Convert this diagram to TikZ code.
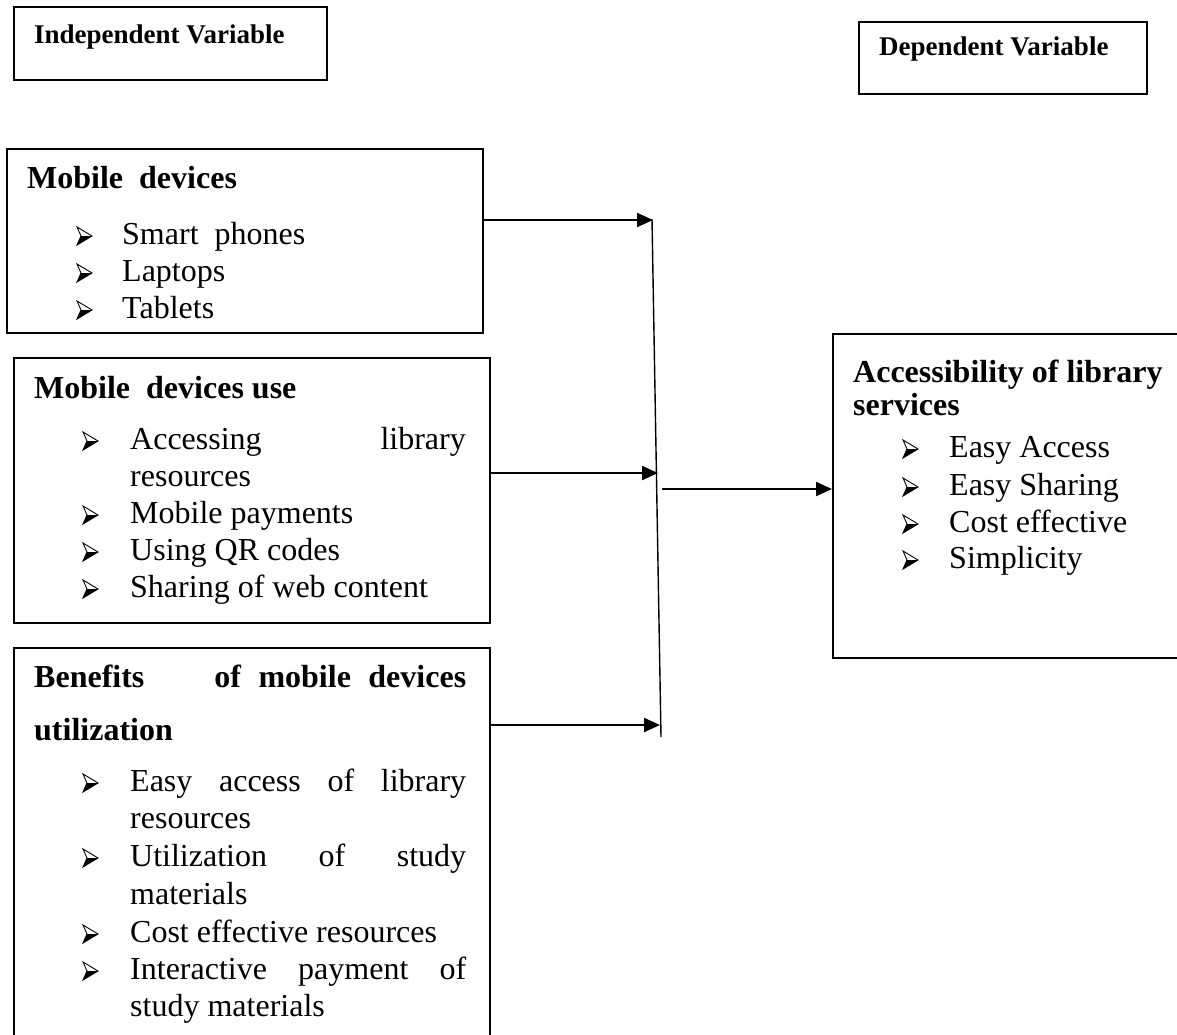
\documentclass[tikz,border=0pt]{standalone}
\usepackage{fontspec}
\setmainfont{Liberation Serif}
\usetikzlibrary{arrows.meta}

\tikzset{
  frame/.style={draw, line width=1.8pt, inner sep=0pt, anchor=north west},
  txt/.style={anchor=base west, inner sep=0pt, font=\fontsize{32}{38}\selectfont},
  txtr/.style={anchor=base east, inner sep=0pt, font=\fontsize{32}{38}\selectfont},
  head/.style={anchor=base west, inner sep=0pt, font=\fontsize{32}{38}\selectfont\bfseries},
  label/.style={anchor=base west, inner sep=0pt, font=\fontsize{27}{32}\selectfont\bfseries},
  link/.style={line width=2.2pt, -{Triangle[length=16pt,width=14pt]}},
  rail/.style={line width=1.4pt},
  % three-faced arrowhead bullet, placed at its baseline-left point
  pics/chevron/.style={code={
    \fill (4,-8) -- (15,-8) -- (0,1) -- cycle;
    \draw[line width=0.9pt, line join=miter] (0,-17) -- (15,-8) -- (0,1) -- (4,-8) -- cycle;
  }},
}

\begin{document}
\begin{tikzpicture}[x=1pt, y=-1pt]
\useasboundingbox (0,0) rectangle (1177,1034);

% variable labels
\node[frame, minimum width=313pt, minimum height=73pt] (indep) at (13,6) {};
\node[label] (indepT) at (34,43) {Independent Variable};
\node[frame, minimum width=288pt, minimum height=72pt] (dep) at (858,21) {};
\node[label] (depT) at (879,55) {Dependent Variable};

% mobile devices
\node[frame, minimum width=476pt, minimum height=184pt] (mob) at (6,148) {};
\node[head] (mobH) at (27,188) {Mobile\ \ devices};
\pic (mb1) at (77,244) {chevron};
\node[txt] (mt1) at (122,244) {Smart\ \ phones};
\pic (mb2) at (77,281) {chevron};
\node[txt] (mt2) at (122,281) {Laptops};
\pic (mb3) at (77,318) {chevron};
\node[txt] (mt3) at (122,318) {Tablets};

% mobile devices use
\node[frame, minimum width=476pt, minimum height=265pt] (use) at (13,357) {};
\node[head] (useH) at (34,398) {Mobile\ \ devices use};
\pic (ub1) at (83,449) {chevron};
\node[txt] (ut1) at (130,449) {Accessing};
\node[txtr] (ut1b) at (466,449) {library};
\node[txt] (ut1c) at (130,486) {resources};
\pic (ub2) at (83,523) {chevron};
\node[txt] (ut2) at (130,523) {Mobile payments};
\pic (ub3) at (83,560) {chevron};
\node[txt] (ut3) at (130,560) {Using QR codes};
\pic (ub4) at (83,597) {chevron};
\node[txt] (ut4) at (130,597) {Sharing of web content};

% benefits
\node[frame, minimum width=476pt, minimum height=410pt] (ben) at (13,647) {};
\node[head] (benH) at (34,687) {\makebox[432pt][s]{Benefits\ \ \ \ of mobile devices}};
\node[head] (benH2) at (34,740) {utilization};
\pic (bb1) at (83,791) {chevron};
\node[txt] (bt1) at (130,791) {\makebox[336pt][s]{Easy access of library}};
\node[txt] (bt1b) at (130,828) {resources};
\pic (bb2) at (83,866) {chevron};
\node[txt] (bt2) at (130,866) {\makebox[336pt][s]{Utilization of study}};
\node[txt] (bt2b) at (130,904) {materials};
\pic (bb3) at (83,942) {chevron};
\node[txt] (bt3) at (130,942) {Cost effective resources};
\pic (bb4) at (83,979) {chevron};
\node[txt] (bt4) at (130,979) {\makebox[336pt][s]{Interactive payment of}};
\node[txt] (bt4b) at (130,1016) {study materials};

% accessibility
\node[frame, minimum width=360pt, minimum height=324pt] (acc) at (832,333) {};
\node[head] (accH) at (853,382) {Accessibility of library};
\node[head] (accH2) at (853,415) {services};
\pic (ab1) at (903,457) {chevron};
\node[txt] (at1) at (949,457) {Easy Access};
\pic (ab2) at (903,495) {chevron};
\node[txt] (at2) at (949,495) {Easy Sharing};
\pic (ab3) at (903,532) {chevron};
\node[txt] (at3) at (949,532) {Cost effective};
\pic (ab4) at (903,568) {chevron};
\node[txt] (at4) at (949,568) {Simplicity};

% connectors
\coordinate (jtop) at (652,219);
\coordinate (jbot) at (661,737);
\coordinate (j1) at (653,220);
\coordinate (j2) at (658,473);
\coordinate (j3) at (660,725);
\coordinate (jout) at (662,489);
\draw[rail] (jtop) -- (jbot);
\draw[link] (mob.east |- j1) -- (j1);
\draw[link] (use.east |- j2) -- (j2);
\draw[link] (ben.east |- j3) -- (j3);
\draw[link] (jout) -- (acc.west |- jout);
\end{tikzpicture}
\end{document}
